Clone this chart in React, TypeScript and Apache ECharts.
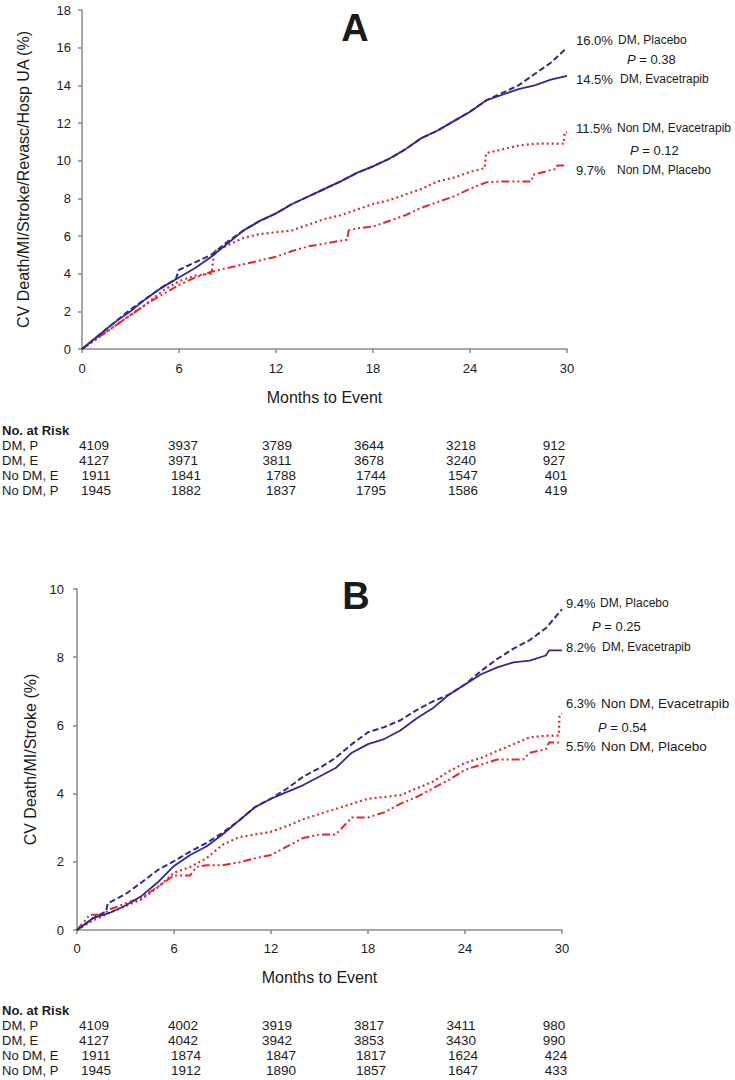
import React, { useEffect, useRef } from "react";
import * as echarts from "echarts";

// ---------- DATA ----------
const monthTicks = [0, 6, 12, 18, 24, 30];

// Panel A: CV Death/MI/Stroke/Revasc/Hosp UA (%)
const dmPlaceboA = [[0,0],[1,0.7],[2,1.4],[3,2.1],[4,2.7],[5,3.3],[5.8,3.7],[6,4.2],[7,4.6],[8,5.0],[9,5.7],[10,6.3],[11,6.8],[12,7.2],[13,7.7],[14,8.1],[15,8.5],[16,8.9],[17,9.35],[18,9.7],[19,10.1],[20,10.6],[21,11.2],[22,11.6],[23,12.1],[24,12.6],[25,13.2],[26,13.6],[27,14.0],[28,14.6],[29,15.2],[30,16.0]];
const dmEvacA = [[0,0],[1,0.7],[2,1.4],[3,2.0],[4,2.7],[5,3.3],[6,3.8],[7,4.3],[8,4.9],[9,5.6],[10,6.3],[11,6.8],[12,7.2],[13,7.7],[14,8.1],[15,8.5],[16,8.9],[17,9.35],[18,9.7],[19,10.1],[20,10.6],[21,11.2],[22,11.6],[23,12.1],[24,12.6],[25,13.2],[26,13.5],[27,13.8],[28,14.0],[29,14.3],[30,14.5]];
const nonDmEvacA = [[0,0],[1,0.6],[2,1.2],[3,1.8],[4,2.4],[5,3.1],[6,3.6],[7,3.9],[8,4.0],[8.2,5.2],[9,5.5],[10,5.9],[11,6.1],[12,6.2],[13,6.3],[14,6.6],[15,6.9],[16,7.1],[17,7.4],[18,7.7],[19,7.9],[20,8.2],[21,8.5],[22,8.9],[23,9.1],[24,9.4],[24.9,9.6],[25,10.4],[26,10.6],[27,10.8],[28,10.9],[29,10.9],[29.8,10.9],[29.85,11.5],[30,11.5]];
const nonDmPlaceboA = [[0,0],[1,0.6],[2,1.2],[3,1.8],[4,2.4],[5,2.9],[6,3.4],[7,3.8],[8,4.1],[9,4.3],[10,4.5],[11,4.7],[12,4.9],[13,5.2],[14,5.45],[15,5.6],[16,5.75],[16.4,5.8],[16.5,6.3],[17,6.4],[18,6.5],[19,6.8],[20,7.1],[21,7.5],[22,7.8],[23,8.1],[24,8.5],[25,8.85],[26,8.9],[27,8.9],[27.8,8.9],[27.9,9.25],[29,9.5],[29.3,9.55],[29.4,9.75],[30,9.75]];

// Panel B: CV Death/MI/Stroke (%)
const dmPlaceboB = [[0,0],[1,0.35],[1.8,0.55],[1.9,0.78],[3,1.05],[4,1.4],[5,1.76],[6,2.02],[7,2.3],[8,2.55],[9,2.85],[10,3.2],[11,3.6],[12,3.85],[13,4.15],[14,4.5],[15,4.75],[16,5.05],[17,5.45],[18,5.8],[19,5.95],[20,6.15],[21,6.45],[22,6.7],[23,6.9],[24,7.2],[25,7.6],[26,7.95],[27,8.25],[28,8.5],[29,8.85],[30,9.4]];
const dmEvacB = [[0,0],[1,0.35],[2,0.5],[3,0.72],[4,1.0],[5,1.4],[6,1.88],[7,2.2],[8,2.45],[9,2.8],[10,3.2],[11,3.6],[12,3.85],[13,4.05],[14,4.25],[15,4.5],[16,4.75],[17,5.2],[18,5.45],[19,5.6],[20,5.85],[21,6.2],[22,6.5],[23,6.9],[24,7.2],[25,7.5],[26,7.7],[27,7.85],[28,7.9],[29,8.05],[29.2,8.2],[30,8.2]];
const nonDmEvacB = [[0,0],[1,0.28],[2,0.5],[3,0.7],[4,0.9],[5,1.25],[6,1.68],[7,1.85],[8,2.1],[9,2.5],[10,2.72],[11,2.8],[12,2.88],[13,3.05],[14,3.25],[15,3.4],[16,3.55],[17,3.7],[18,3.85],[19,3.9],[20,3.95],[21,4.15],[22,4.35],[23,4.65],[24,4.9],[25,5.05],[26,5.25],[27,5.45],[28,5.65],[29,5.7],[29.8,5.7],[29.85,6.3],[30,6.35]];
const nonDmPlaceboB = [[0,0],[0.8,0.45],[1.6,0.45],[2,0.6],[3,0.78],[4,0.95],[5,1.27],[6,1.6],[7,1.6],[7.4,1.85],[8,1.9],[9,1.9],[10,1.98],[11,2.1],[12,2.2],[13,2.45],[14,2.7],[15,2.8],[16,2.8],[16.5,3.05],[17,3.3],[18,3.3],[19,3.45],[20,3.7],[21,3.9],[22,4.15],[23,4.4],[24,4.7],[25,4.85],[26,5.0],[27,5.0],[27.6,5.0],[28,5.2],[29,5.3],[29.2,5.5],[30,5.5]];

// Numbers at risk
const riskRowLabels = ["DM, P", "DM, E", "No DM, E", "No DM, P"];
const riskA = [
  [4109, 3937, 3789, 3644, 3218, 912],
  [4127, 3971, 3811, 3678, 3240, 927],
  [1911, 1841, 1788, 1744, 1547, 401],
  [1945, 1882, 1837, 1795, 1586, 419],
];
const riskB = [
  [4109, 4002, 3919, 3817, 3411, 980],
  [4127, 4042, 3942, 3853, 3430, 990],
  [1911, 1874, 1847, 1817, 1624, 424],
  [1945, 1912, 1890, 1857, 1647, 433],
];

// End-of-curve annotations
const annA = [
  { pct: "16.0%", label: "DM, Placebo" },
  { pct: "14.5%", label: "DM, Evacetrapib" },
  { pct: "11.5%", label: "Non DM, Evacetrapib" },
  { pct: "9.7%", label: "Non DM, Placebo" },
];
const pA = ["0.38", "0.12"];
const annB = [
  { pct: "9.4%", label: "DM, Placebo" },
  { pct: "8.2%", label: "DM, Evacetrapib" },
  { pct: "6.3%", label: "Non DM, Evacetrapib" },
  { pct: "5.5%", label: "Non DM, Placebo" },
];
const pB = ["0.25", "0.54"];

// ---------- STYLE / LAYOUT ----------
const FONT = "'Liberation Sans', Arial, Helvetica, sans-serif";
const BLUE = "#2d2b8f";
const RED = "#e6262b";
const AXIS = "#8a8a8a";
const TXT = "#1a1a1a";

const colCentersDM = [94, 183, 277, 369, 461, 554];
const colCentersNoDM = [96, 186, 281, 371, 463, 556];

export default function App() {
  const ref = useRef<HTMLDivElement>(null);

  useEffect(() => {
    if (!ref.current) return;
    const chart = echarts.init(ref.current, undefined, { renderer: "svg" });

    const mkX = (gridIndex: number, nameGap: number, labelMargin: number) => ({
      type: "value",
      gridIndex,
      min: 0,
      max: 30,
      interval: 6,
      name: "Months to Event",
      nameLocation: "middle",
      nameGap,
      nameTextStyle: { fontFamily: FONT, fontSize: 16, color: TXT },
      axisLine: { show: true, onZero: false, lineStyle: { color: AXIS, width: 1.5 } },
      axisTick: { show: true, length: 4, lineStyle: { color: AXIS, width: 1.5 } },
      axisLabel: { fontFamily: FONT, fontSize: 13, color: TXT, margin: labelMargin,
        formatter: (v: number) => (monthTicks.includes(v) ? String(v) : "") },
      splitLine: { show: false },
    });
    const mkY = (gridIndex: number, max: number, name: string, nameGap: number, labelMargin: number) => ({
      type: "value",
      gridIndex,
      min: 0,
      max,
      interval: 2,
      name,
      nameLocation: "middle",
      nameGap,
      nameRotate: 90,
      nameTextStyle: { fontFamily: FONT, fontSize: 16, color: TXT },
      axisLine: { show: true, lineStyle: { color: AXIS, width: 1.5 } },
      axisTick: { show: true, length: 4, lineStyle: { color: AXIS, width: 1.5 } },
      axisLabel: { fontFamily: FONT, fontSize: 13, color: TXT, margin: labelMargin },
      splitLine: { show: false },
    });

    const line = (data: number[][], idx: number, color: string, type: any, width = 2) => ({
      type: "line",
      xAxisIndex: idx,
      yAxisIndex: idx,
      data,
      showSymbol: false,
      symbol: "none",
      silent: true,
      lineStyle: { color, width, type, cap: "butt" },
    });

    const DASH = [6, 3];
    const DOT = [2, 3];
    const DASHDOTDOT = [8, 3, 2, 3, 2, 3];

    const graphics: any[] = [];
    const txt = (x: number, y: number, text: string, size: number, opts: any = {}) => {
      graphics.push({
        type: "text",
        x,
        y,
        silent: true,
        style: {
          text,
          fill: TXT,
          fontFamily: FONT,
          fontSize: size,
          fontWeight: opts.bold ? "bold" : "normal",
          textAlign: opts.align || "left",
          textVerticalAlign: "middle",
          rich: opts.rich,
        },
      });
    };

    // Panel letters
    txt(355, 28, "A", 38, { bold: true, align: "center" });
    txt(356, 596, "B", 38, { bold: true, align: "center" });

    // Annotations A
    const annAy = [40, 79, 128, 170];
    const annALabelX = [618, 620, 617, 617];
    annA.forEach((a, i) => {
      txt(576, annAy[i], a.pct, 13);
      txt(annALabelX[i], annAy[i], a.label, 12);
    });
    const pRich = { i: { fontStyle: "italic", fontFamily: FONT, fontSize: 13, fill: TXT } };
    txt(627, 59, `{i|P} = ${pA[0]}`, 13, { rich: pRich });
    txt(630, 150, `{i|P} = ${pA[1]}`, 13, { rich: pRich });

    // Annotations B
    const annBy = [603, 647, 703, 746];
    const annBLabelX = [600, 602, 601, 601];
    const annBSize = [12, 12, 13.5, 13.5];
    annB.forEach((a, i) => {
      txt(566, annBy[i], a.pct, 13);
      txt(annBLabelX[i], annBy[i], a.label, annBSize[i]);
    });
    txt(592, 626, `{i|P} = ${pB[0]}`, 13, { rich: pRich });
    txt(598, 727, `{i|P} = ${pB[1]}`, 13, { rich: pRich });

    // Risk tables
    const table = (risk: number[][], topY: number) => {
      txt(2, topY, "No. at Risk", 13, { bold: true });
      risk.forEach((row, r) => {
        const y = topY + 15.2 * (r + 1);
        txt(2, y, riskRowLabels[r], 13);
        const cols = r < 2 ? colCentersDM : colCentersNoDM;
        row.forEach((v, c) => txt(cols[c], y, String(v), 13.5, { align: "center" }));
      });
    };
    table(riskA, 430);
    table(riskB, 1010);

    chart.setOption({
      animation: false,
      backgroundColor: "#ffffff",
      grid: [
        { left: 82, top: 10, width: 485, height: 339 },
        { left: 77, top: 589, width: 485, height: 341 },
      ],
      xAxis: [mkX(0, 40, 13), mkX(1, 39, 12)],
      yAxis: [
        mkY(0, 18, "CV Death/MI/Stroke/Revasc/Hosp UA (%)", 51, 11),
        mkY(1, 10, "CV Death/MI/Stroke (%)", 37, 13),
      ],
      series: [
        line(nonDmPlaceboA, 0, RED, DASHDOTDOT),
        line(nonDmEvacA, 0, RED, DOT, 2.2),
        line(dmEvacA, 0, BLUE, "solid", 1.8),
        line(dmPlaceboA, 0, BLUE, DASH),
        line(nonDmPlaceboB, 1, RED, DASHDOTDOT),
        line(nonDmEvacB, 1, RED, DOT, 2.2),
        line(dmEvacB, 1, BLUE, "solid", 1.8),
        line(dmPlaceboB, 1, BLUE, DASH),
      ],
      graphic: graphics,
    });

    return () => chart.dispose();
  }, []);

  return (
    <div
      ref={ref}
      style={{ position: "absolute", left: 0, top: 0, width: 735, height: 1080, background: "#fff" }}
    />
  );
}
